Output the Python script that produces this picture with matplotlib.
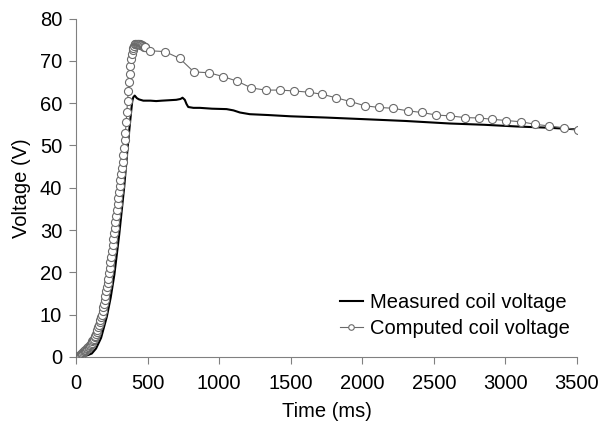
import matplotlib
matplotlib.use("Agg")
import matplotlib.pyplot as plt

plt.rcParams['font.family'] = ['Liberation Sans', 'DejaVu Sans']

# Computed coil voltage: dense samples during rise (5 ms), then sparse (~100 ms)
comp_time = list(range(0, 490, 5)) + [
    516, 621, 724, 823, 928, 1028, 1126, 1226, 1324, 1424, 1523, 1626, 1722,
    1814, 1917, 2017, 2115, 2214, 2317, 2417, 2517, 2614, 2716, 2819, 2905,
    3006, 3110, 3210, 3308, 3408, 3505]
comp_volt = [
    0.0, 0.05, 0.1, 0.15, 0.2, 0.3, 0.45, 0.6, 0.75, 0.95,
    1.15, 1.3, 1.45, 1.6, 1.75, 1.9, 2.05, 2.25, 2.45, 2.65,
    2.9, 3.15, 3.4, 3.7, 4.0, 4.3, 4.6, 5.0, 5.4, 5.9,
    6.4, 7.0, 7.6, 8.2, 8.8, 9.4, 10.0, 10.8, 11.7, 12.6,
    13.5, 14.5, 15.5, 16.5, 17.5, 18.5, 19.8, 21.1, 22.4, 23.7,
    25.0, 26.4, 27.8, 29.2, 30.6, 32.0, 33.4, 34.8, 36.2, 37.6,
    39.0, 40.4, 41.8, 43.2, 44.6, 46.0, 47.8, 49.5, 51.2, 53.0,
    55.5, 58.0, 60.5, 63.0, 65.0, 67.0, 68.8, 70.5, 71.6, 72.5,
    73.1, 73.6, 73.9, 74.0, 74.1, 74.1, 74.1, 74.0, 74.0, 73.9,
    73.8, 73.8, 73.7, 73.6, 73.5, 73.4, 73.3, 73.2,
    72.4, 72.2, 70.6, 67.4, 67.2, 66.3, 65.2, 63.6, 63.1, 63.1, 62.9, 62.6, 62.1,
    61.3, 60.4, 59.4, 59.0, 58.8, 58.2, 57.8, 57.2, 57.0, 56.6, 56.5, 56.2,
    55.9, 55.6, 55.0, 54.6, 54.2, 53.7]

# Measured coil voltage
meas_time = [0, 40, 80, 110, 140, 175, 215, 242, 268, 302, 336, 362, 376, 385,
             393, 400, 410, 425, 440, 470, 520, 560, 600, 650, 700, 730, 744,
             760, 772, 784, 820, 865, 950, 1052, 1100, 1145, 1214, 1342, 1500,
             1750, 2028, 2300, 2610, 2850, 3075, 3300, 3505]
meas_volt = [0, 0.1, 0.4, 0.8, 2.0, 4.5, 9.5, 14, 19.5, 29, 40, 50, 55, 58,
             60.5, 61.4, 61.8, 61.2, 60.9, 60.6, 60.6, 60.5, 60.6, 60.7, 60.8,
             61.0, 61.3, 60.8, 59.8, 59.1, 58.9, 58.9, 58.7, 58.6, 58.3, 57.8,
             57.4, 57.2, 56.9, 56.6, 56.2, 55.8, 55.2, 54.9, 54.5, 54.2, 53.8]

x_ticks = [0, 500, 1000, 1500, 2000, 2500, 3000, 3500]
y_ticks = [0, 10, 20, 30, 40, 50, 60, 70, 80]

FS = 14.5

fig = plt.figure(figsize=(6.01, 4.29), dpi=100)
ax = fig.add_axes([0.1265, 0.168, 0.8335, 0.7886])

ax.plot(meas_time, meas_volt, color='black', lw=1.5, label='Measured coil voltage',
        zorder=2)
ax.plot(comp_time, comp_volt, color='#6a6a6a', lw=0.8, marker='o', markersize=5.8,
        markerfacecolor='white', markeredgecolor='#6a6a6a', markeredgewidth=0.8,
        label='Computed coil voltage', zorder=3)

ax.set_xlim(0, 3500)
ax.set_ylim(0, 80)
ax.set_xticks(x_ticks)
ax.set_yticks(y_ticks)
ax.tick_params(axis='both', direction='out', length=5, width=0.8, color='#808080',
               labelsize=FS, labelcolor='black', pad=5)
ax.tick_params(axis='x', pad=7)
for s in ['top', 'right']:
    ax.spines[s].set_visible(False)
for s in ['left', 'bottom']:
    ax.spines[s].set_color('#808080')
    ax.spines[s].set_linewidth(0.8)

ax.set_xlabel('Time (ms)', fontsize=FS, labelpad=7)
ax.set_ylabel('Voltage (V)', fontsize=FS, labelpad=6)

leg = ax.legend(loc='upper left', bbox_to_anchor=(0.526, 0.19), frameon=False,
                fontsize=FS, handlelength=1.15, handletextpad=0.35,
                labelspacing=0.35, borderpad=0, borderaxespad=0)
for h in leg.legend_handles:
    h.set_markersize(4)

fig.savefig('out.png', dpi=100)
